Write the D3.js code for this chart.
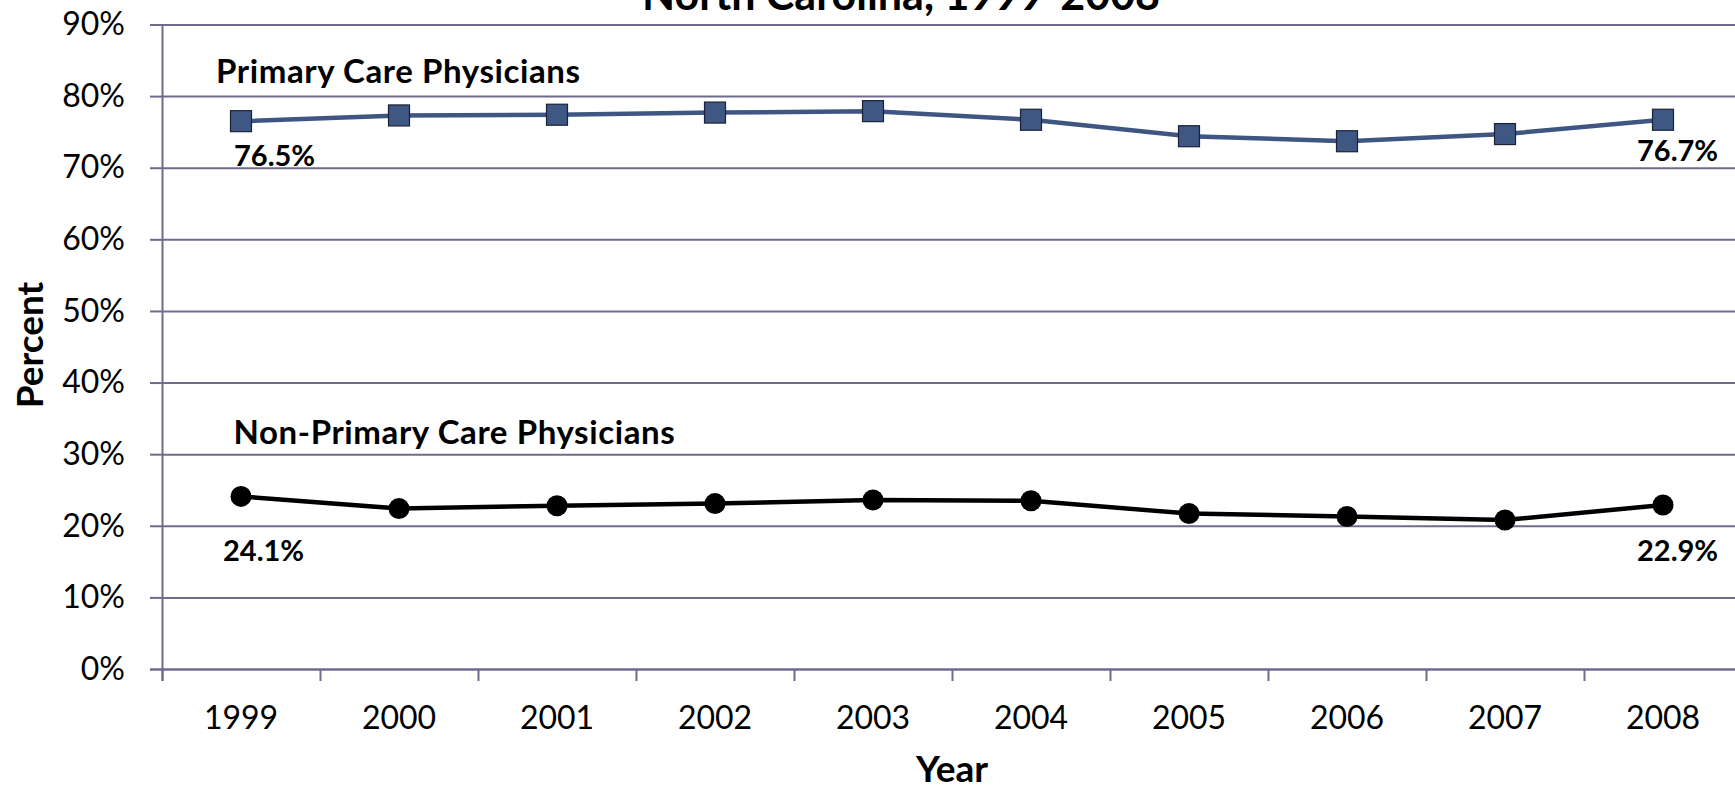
<!DOCTYPE html>
<html>
<head>
<meta charset="utf-8">
<script src="https://cdn.jsdelivr.net/npm/d3@7"></script>
<style>
  body { margin: 0; background: #fff; }
  svg { display: block; font-family: Lato, "Open Sans", sans-serif; }
</style>
</head>
<body>
<script>
// data
var years = ["1999", "2000", "2001", "2002", "2003", "2004", "2005", "2006", "2007", "2008"];
var primary = [76.5, 77.3, 77.4, 77.7, 77.9, 76.7, 74.4, 73.7, 74.7, 76.7];
var nonPrimary = [24.1, 22.4, 22.8, 23.1, 23.6, 23.5, 21.7, 21.3, 20.8, 22.9];
var yTicks = [0, 10, 20, 30, 40, 50, 60, 70, 80, 90];

// size
var width = 1735;
var height = 785;
var plotLeft = 162, plotRight = 1742, plotTop = 24.5, plotBottom = 669;
var gridColor = "#6f6b8f";

var svg = d3.select("body")
    .append("svg")
    .attr("width", width)
    .attr("height", height);

var x = d3.scaleBand().domain(years).range([plotLeft, plotRight]);
var y = d3.scaleLinear().domain([0, 90]).range([plotBottom, plotTop]);
var cx = function (d, i) { return x(years[i]) + x.bandwidth() / 2; };

// gridlines
svg.append("g")
    .attr("transform", "translate(" + plotLeft + ",0)")
    .call(d3.axisLeft(y).tickValues(yTicks).tickSize(-(plotRight - plotLeft)).tickFormat(""))
    .call(function (g) {
        g.select(".domain").remove();
        g.selectAll("line").attr("stroke", gridColor).attr("stroke-width", 2);
    });

// y axis
svg.append("g")
    .attr("transform", "translate(" + plotLeft + ",0)")
    .call(d3.axisLeft(y).tickValues(yTicks).tickSize(12).tickPadding(25)
        .tickFormat(function (d) { return d + "%"; }))
    .call(function (g) {
        g.select(".domain").attr("stroke", gridColor).attr("stroke-width", 2);
        g.selectAll("line").attr("stroke", gridColor).attr("stroke-width", 2);
        g.selectAll("text").attr("font-size", "32px").attr("fill", "#000")
            .attr("font-family", "Lato");
    });

// x axis: tick marks between categories
var bounds = d3.scaleLinear().domain([0, years.length]).range([plotLeft, plotRight]);
svg.append("g")
    .attr("transform", "translate(0," + plotBottom + ")")
    .call(d3.axisBottom(bounds).tickValues(d3.range(years.length + 1)).tickSize(12).tickFormat(""))
    .call(function (g) {
        g.select(".domain").attr("stroke", gridColor).attr("stroke-width", 2);
        g.selectAll("line").attr("stroke", gridColor).attr("stroke-width", 2);
    });

svg.append("g")
    .attr("transform", "translate(0," + plotBottom + ")")
    .call(d3.axisBottom(x).tickSize(0).tickPadding(37))
    .call(function (g) {
        g.select(".domain").remove();
        g.selectAll("text").attr("font-size", "32px").attr("fill", "#000")
            .attr("font-family", "Lato");
    });

// lines
var line = d3.line()
    .x(cx)
    .y(function (d) { return y(d); });

svg.append("path")
    .datum(primary)
    .attr("d", line)
    .attr("fill", "none")
    .attr("stroke", "#3f5682")
    .attr("stroke-width", 4.5);

svg.append("path")
    .datum(nonPrimary)
    .attr("d", line)
    .attr("fill", "none")
    .attr("stroke", "#000")
    .attr("stroke-width", 4.5);

// markers
var sq = 21;
svg.selectAll("rect.pc")
    .data(primary)
    .enter()
    .append("rect")
    .attr("class", "pc")
    .attr("x", function (d, i) { return cx(d, i) - sq / 2; })
    .attr("y", function (d) { return y(d) - sq / 2; })
    .attr("width", sq)
    .attr("height", sq)
    .attr("fill", "#3e5783")
    .attr("stroke", "#1a2236")
    .attr("stroke-width", 1.2);

svg.selectAll("circle.npc")
    .data(nonPrimary)
    .enter()
    .append("circle")
    .attr("class", "npc")
    .attr("cx", cx)
    .attr("cy", function (d) { return y(d); })
    .attr("r", 10.5)
    .attr("fill", "#000");

// end value labels
var last = years.length - 1;
var endLabels = [
    { v: primary[0], i: 0, dx: -7, dy: 44.5 },
    { v: primary[last], i: last, dx: -26, dy: 41 },
    { v: nonPrimary[0], i: 0, dx: -18, dy: 65 },
    { v: nonPrimary[last], i: last, dx: -26, dy: 56 }
];
svg.selectAll("text.val")
    .data(endLabels)
    .enter()
    .append("text")
    .attr("class", "val")
    .attr("x", function (d) { return cx(d.v, d.i) + d.dx; })
    .attr("y", function (d) { return y(d.v) + d.dy; })
    .attr("font-size", "29px")
    .attr("font-weight", "bold")
    .text(function (d) { return d.v.toFixed(1) + "%"; });

// series names
svg.append("text")
    .attr("x", 216)
    .attr("y", 83)
    .attr("font-size", "33px")
    .attr("letter-spacing", "0.6px")
    .attr("font-weight", "bold")
    .text("Primary Care Physicians");

svg.append("text")
    .attr("x", 233.5)
    .attr("y", 444)
    .attr("font-size", "33px")
    .attr("letter-spacing", "0.6px")
    .attr("font-weight", "bold")
    .text("Non-Primary Care Physicians");

// titles
svg.append("text")
    .attr("x", 901)
    .attr("y", 10)
    .attr("text-anchor", "middle")
    .attr("font-size", "43px")
    .attr("font-weight", "bold")
    .text("North Carolina, 1999-2008");

svg.append("text")
    .attr("x", (plotLeft + plotRight) / 2)
    .attr("y", 782)
    .attr("text-anchor", "middle")
    .attr("font-size", "37px")
    .attr("font-weight", "bold")
    .text("Year");

svg.append("text")
    .attr("transform", "translate(43,345) rotate(-90)")
    .attr("text-anchor", "middle")
    .attr("font-size", "37px")
    .attr("font-weight", "bold")
    .text("Percent");
</script>
</body>
</html>
